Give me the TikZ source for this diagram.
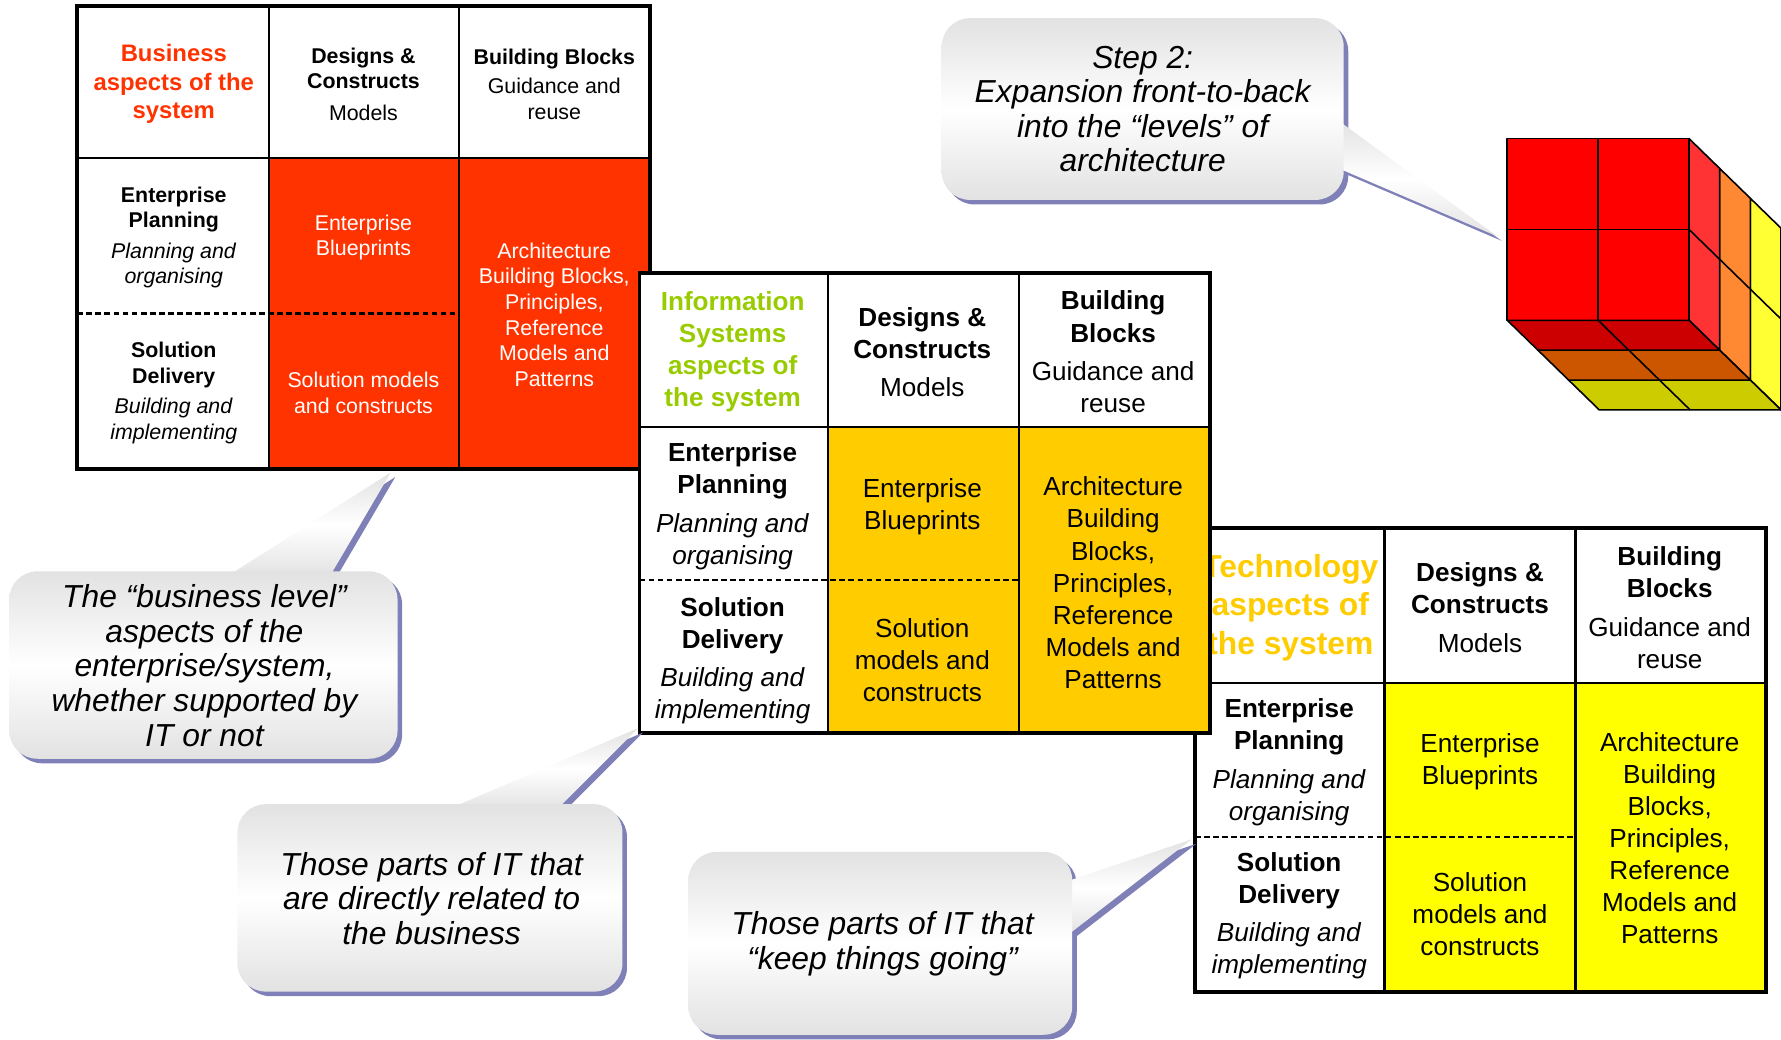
\documentclass[tikz,border=0pt]{standalone}
\usepackage{fontspec}
\setmainfont{Liberation Sans}
\definecolor{bizred}{HTML}{FF3300}
\definecolor{isgreen}{HTML}{99CC00}
\definecolor{techyel}{HTML}{FFCC00}
\definecolor{midbody}{HTML}{FFCC00}
\definecolor{rightbody}{HTML}{FFFF00}
\definecolor{shadowc}{RGB}{128,128,184}
\definecolor{calloutgray}{HTML}{E2E2E2}
\definecolor{redF}{HTML}{FF0000}
\definecolor{redR}{HTML}{FF3333}
\definecolor{redB}{HTML}{CC0000}
\definecolor{orgF}{HTML}{FF8833}
\definecolor{orgR}{HTML}{FF8833}
\definecolor{orgB}{HTML}{CC5500}
\definecolor{yelF}{HTML}{FFFF33}
\definecolor{yelR}{HTML}{FFFF33}
\definecolor{yelB}{HTML}{CCCC00}
\begin{document}
\begin{tikzpicture}[x=1pt,y=-1pt,
  outerln/.style={line width=3.5pt},
  gridln/.style={line width=2pt},
  dashln/.style={line width=1.8pt, dash pattern=on 5pt off 3pt},
  cell/.style={align=center, inner sep=0pt},
  smallf/.style={font=\fontsize{18.8}{22.6}\selectfont},
  bigf/.style={font=\fontsize{23}{28.2}\selectfont},
  callf/.style={align=center, inner sep=0pt, font=\fontsize{28}{30.5}\selectfont\itshape},
  callshade/.style={top color=calloutgray, bottom color=calloutgray, middle color=white},
  cubeln/.style={line width=1.4pt, line join=round}
]
\useasboundingbox (0,0) rectangle (1568,915);

% ---------------- left table (business) ----------------
\fill[white] (68,5) rectangle (572,413);
\fill[bizred] (237,139) rectangle (572,413);
\draw[gridln] (237,5) -- (237,413) (404,5) -- (404,413) (68,139) -- (572,139);
\draw[dashln] (68,276) -- (404,276);
\draw[outerln] (68,5) rectangle (572,413);

\node[cell, font=\fontsize{21}{25}\selectfont\bfseries, text=bizred] (Lh1) at (153,74) {Business\\aspects of the\\system};
\node[cell, smallf] (Lh2) at (320,74) {\textbf{Designs \&}\\\textbf{Constructs}\\[5pt]Models};
\node[cell, smallf] (Lh3) at (488,74) {\textbf{Building Blocks}\\[3pt]Guidance and\\reuse};
\node[cell, smallf] (Lr1) at (153,209) {\textbf{Enterprise}\\\textbf{Planning}\\[4pt]\textit{Planning and}\\\textit{organising}};
\node[cell, smallf, text=white] (Lb1) at (320,209) {Enterprise\\Blueprints};
\node[cell, smallf, text=white] (Lb3) at (488,277) {Architecture\\Building Blocks,\\Principles,\\Reference\\Models and\\Patterns};
\node[cell, smallf] (Lr2) at (153,346) {\textbf{Solution}\\\textbf{Delivery}\\[4pt]\textit{Building and}\\\textit{implementing}};
\node[cell, smallf, text=white] (Lb2) at (320,346) {Solution models\\and constructs};

% ---------------- right table (technology) ----------------
\fill[white] (1052,465) rectangle (1555,873);
\fill[rightbody] (1219,601) rectangle (1555,873);
\draw[gridln] (1219,465) -- (1219,873) (1387,465) -- (1387,873) (1052,601) -- (1555,601);
\draw[dashln] (1052,737) -- (1387,737);
\node[cell, font=\fontsize{28}{34}\selectfont\bfseries, text=techyel] (Rh1) at (1136,535) {Technology\\aspects of\\the system};
\node[cell, bigf] (Rh2) at (1303,535) {\textbf{Designs \&}\\\textbf{Constructs}\\[6pt]Models};
\node[cell, bigf] (Rh3) at (1470,535) {\textbf{Building}\\\textbf{Blocks}\\[6pt]Guidance and\\reuse};
\node[cell, bigf] (Rr1) at (1135,671) {\textbf{Enterprise}\\\textbf{Planning}\\[6pt]\textit{Planning and}\\\textit{organising}};
\node[cell, bigf] (Rb1) at (1303,671) {Enterprise\\Blueprints};
\node[cell, bigf] (Rb3) at (1470,738) {Architecture\\Building\\Blocks,\\Principles,\\Reference\\Models and\\Patterns};
\node[cell, bigf] (Rr2) at (1135,806) {\textbf{Solution}\\\textbf{Delivery}\\[5pt]\textit{Building and}\\\textit{implementing}};
\node[cell, bigf] (Rb2) at (1303,805) {Solution\\models and\\constructs};
\draw[outerln] (1052,465) rectangle (1555,873);

% ---------------- middle table (information systems) ----------------
\fill[white] (563,240) rectangle (1065,645);
\fill[midbody] (729,376) rectangle (1065,645);
\draw[gridln] (729,240) -- (729,645) (897,240) -- (897,645) (563,376) -- (1065,376);
\draw[dashln] (563,511) -- (897,511);
\draw[outerln] (563,240) rectangle (1065,645);
\node[cell, text=isgreen, font=\fontsize{23}{28.2}\selectfont\bfseries] (Mh1) at (645,310) {Information\\Systems\\aspects of\\the system};
\node[cell, bigf] (Mh2) at (812,310) {\textbf{Designs \&}\\\textbf{Constructs}\\[6pt]Models};
\node[cell, bigf] (Mh3) at (980,310) {\textbf{Building}\\\textbf{Blocks}\\[6pt]Guidance and\\reuse};
\node[cell, bigf] (Mr1) at (645,446) {\textbf{Enterprise}\\\textbf{Planning}\\[6pt]\textit{Planning and}\\\textit{organising}};
\node[cell, bigf] (Mb1) at (812,446) {Enterprise\\Blueprints};
\node[cell, bigf] (Mb3) at (980,513) {Architecture\\Building\\Blocks,\\Principles,\\Reference\\Models and\\Patterns};
\node[cell, bigf] (Mr2) at (645,582) {\textbf{Solution}\\\textbf{Delivery}\\[5pt]\textit{Building and}\\\textit{implementing}};
\node[cell, bigf] (Mb2) at (812,581) {Solution\\models and\\constructs};

% ---------------- cube ----------------
\foreach \k/\fc/\rc/\bc in {2/yelF/yelR/yelB, 1/orgF/orgR/orgB, 0/redF/redR/redB}{
  \begin{scope}[shift={(\k*27,\k*26.3)}]
    \filldraw[cubeln, fill=\fc] (1327,122) rectangle (1487,282);
    \draw[cubeln] (1407,122) -- (1407,282) (1327,202) -- (1487,202);
    \filldraw[cubeln, fill=\rc] (1487,122) -- (1514,148.3) -- (1514,308.3) -- (1487,282) -- cycle;
    \draw[cubeln] (1487,202) -- (1514,228.3);
    \filldraw[cubeln, fill=\bc] (1327,282) -- (1487,282) -- (1514,308.3) -- (1354,308.3) -- cycle;
    \draw[cubeln] (1407,282) -- (1434,308.3);
  \end{scope}
}

% ---------------- callouts ----------------
% shadows
\begin{scope}[shift={(4,4)}]
  \fill[shadowc, rounded corners=25] (8,503) rectangle (350,668);
  \fill[shadowc] (199,508) -- (290,508) -- (344,416) -- cycle;
  \fill[shadowc, rounded corners=25] (829,16) rectangle (1183,176);
  \fill[shadowc] (1178,106) -- (1178,148) -- (1318,208) -- cycle;
  \fill[shadowc, rounded corners=25] (209,708) rectangle (548,873);
  \fill[shadowc] (393,713) -- (490,713) -- (562,641) -- cycle;
  \fill[shadowc, rounded corners=25] (606,750) rectangle (944,911);
  \fill[shadowc] (939,776) -- (939,824) -- (1049,739) -- cycle;
\end{scope}
% bodies
\shade[callshade] (199,508) -- (290,508) -- (344,416) -- cycle;
\shade[callshade, rounded corners=25] (8,503) rectangle (350,668);
\shade[callshade] (1178,106) -- (1178,148) -- (1318,208) -- cycle;
\shade[callshade, rounded corners=25] (829,16) rectangle (1183,176);
\shade[callshade] (393,713) -- (490,713) -- (562,641) -- cycle;
\shade[callshade, rounded corners=25] (209,708) rectangle (548,873);
\shade[callshade] (939,776) -- (939,824) -- (1049,739) -- cycle;
\shade[callshade, rounded corners=25] (606,750) rectangle (944,911);

\node[callf] (c1) at (180,586) {The “business level”\\aspects of the\\enterprise/system,\\whether supported by\\IT or not};
\node[callf] (c2) at (1006,96) {Step 2:\\Expansion front-to-back\\into the “levels” of\\architecture};
\node[callf] (c3) at (380,791) {Those parts of IT that\\are directly related to\\the business};
\node[callf] (c4) at (777,831) {Those parts of IT that\\“keep things going”};
\end{tikzpicture}
\end{document}
